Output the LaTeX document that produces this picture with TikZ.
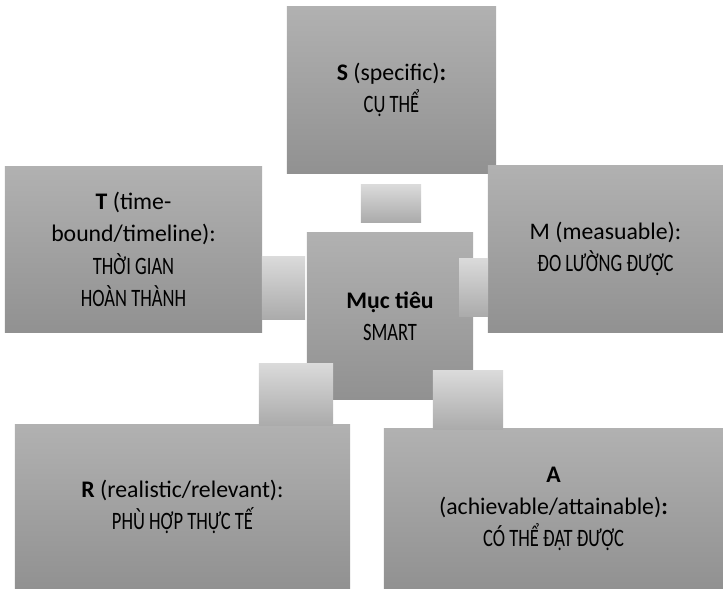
\documentclass[tikz,border=0pt]{standalone}
\usepackage{fontspec}
\setmainfont{Carlito}
\newfontfamily\condfont[FakeStretch=0.74]{Carlito}
\usepackage{xcolor,tikz}
\definecolor{cardtop}{HTML}{B1B1B1}
\definecolor{cardbot}{HTML}{919191}
\definecolor{linktop}{HTML}{DADADA}
\definecolor{linkbot}{HTML}{ABABAB}
\newcommand{\up}[1]{{\condfont\fontsize{17.8}{23}\selectfont #1}}
\tikzset{
  card/.style={inner sep=0pt,align=center,top color=cardtop,bottom color=cardbot,
    font={\fontsize{16.9}{23}\selectfont\lineskiplimit=-20pt}},
  link/.style={inner sep=0pt,top color=linktop,bottom color=linkbot}}

\begin{document}
\begin{tikzpicture}[x=0.025cm,y=-0.025cm]
\useasboundingbox (0,0) rectangle (723,589);
% outer cards
\node[card,minimum width=5.225cm,minimum height=4.15cm] (s) at (391.5,90) {\textbf{S} (specific)\textbf{:}\\\up{CỤ THỂ}};
\node[card,minimum width=6.425cm,minimum height=4.125cm] (t) at (133.5,249.5) {\textbf{T} (time-\\bound/timeline):\\\up{THỜI GIAN}\\\up{HOÀN THÀNH}};
\node[card,minimum width=5.875cm,minimum height=4.15cm] (m) at (605.5,249) {M (measuable):\\\up{ĐO LƯỜNG ĐƯỢC}};
\node[card,minimum width=8.375cm,minimum height=4.1cm] (r) at (182.5,507) {\textbf{R} (realistic/relevant):\\\up{PHÙ HỢP THỰC TẾ}};
\node[card,minimum width=8.475cm,minimum height=4cm] (a) at (553.5,509) {\textbf{A}\\(achievable/attainable)\textbf{:}\\\up{CÓ THỂ ĐẠT ĐƯỢC}};
% centre
\node[card,minimum width=4.15cm,minimum height=4.15cm] (goal) at (390,316) {\textbf{Mục tiêu}\\\up{SMART}};
% links
\node[link,minimum width=1.5cm,minimum height=.925cm] (sl) at (391,203.5) {};
\node[link,minimum width=1.075cm,minimum height=1.55cm] (tl) at (283.5,288) {};
\node[link,minimum width=.725cm,minimum height=1.425cm] (ml) at (473.5,287.5) {};
\node[link,minimum width=1.85cm,minimum height=1.525cm] (rl) at (296,394.5) {};
\node[link,minimum width=1.75cm,minimum height=1.45cm] (al) at (468,400) {};
\end{tikzpicture}
\end{document}
